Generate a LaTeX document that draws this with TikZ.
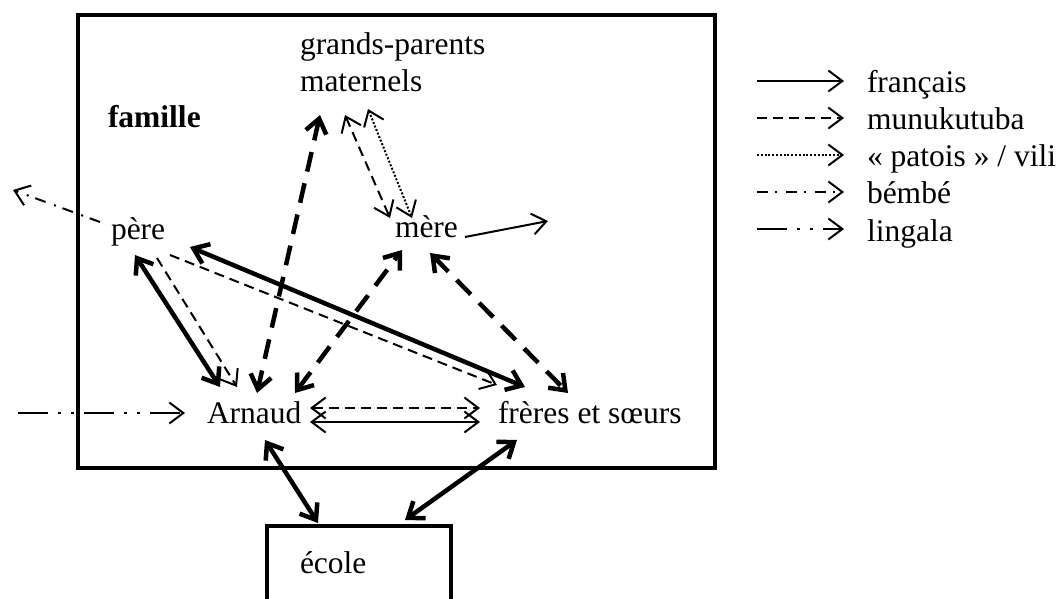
\documentclass[tikz,border=0pt]{standalone}
\usepackage{fontspec}
\setmainfont{Liberation Serif}
\usetikzlibrary{arrows.meta,calc}

\tikzset{
	lbl/.style={inner sep=0pt, outer sep=0pt, anchor=base west, font=\fontsize{31.5}{37}\selectfont},
	frame/.style={line width=4pt},
	fr/.style={line width=2pt},
	frthick/.style={line width=4.5pt},
	mk/.style={line width=2pt, dash pattern=on 10pt off 6pt},
	mkthick/.style={line width=4.5pt, dash pattern=on 20pt off 12pt},
	pv/.style={line width=2pt, dash pattern=on 2pt off 1.8pt},
	bb/.style={line width=2pt, dash pattern=on 11pt off 7pt on 2pt off 9pt},
	lg/.style={line width=2pt, dash pattern=on 30pt off 10pt on 3pt off 10pt on 3pt off 10pt},
	>={Straight Barb[length=14pt,width=21pt]}
}

\begin{document}
\begin{tikzpicture}[x=1pt,y=-1pt]
	%%%%% START %%%%%
	\useasboundingbox (0,0) rectangle (1061,599);
	
	\draw[frame] (78,15) rectangle (715,468);
	\node[draw, frame, minimum width=184pt, minimum height=100pt, anchor=north west, inner sep=0pt, outer sep=0pt] (ecolebox) at (267,526) {};
	
	\node[lbl, font=\fontsize{31.5}{37}\selectfont\bfseries] (famille) at (108,128) {famille};
	\node[lbl, align=left] (gp) at (300,92) {grands-parents\\maternels};
	\node[lbl] (pere) at (111,239) {père};
	\node[lbl] (mere) at (395,237) {mère};
	\node[lbl] (arnaud) at (207,423) {Arnaud};
	\node[lbl] (freres) at (498,423) {frères et sœurs};
	\node[lbl] (ecole) at (300,573) {école};
	
	\coordinate (mere out) at (548,221);
	\coordinate (pere out) at (13,190);
	\coordinate (arnaud in) at (18,413);
	
	% pere
	\draw[frthick, <->] ($(pere.base west)+(24,16)$) -- ($(arnaud.base west)+(13,-36)$);
	\draw[mk, ->] ($(pere.base west)+(46,19)$) -- ($(arnaud.base west)+(30,-36)$);
	\draw[mk, ->] ($(pere.base west)+(59,16)$) -- ($(freres.base west)+(-1,-38)$);
	\draw[frthick, <->] ($(pere.base west)+(79,8)$) -- ($(freres.base west)+(27,-36)$);
	\draw[bb, ->] ($(pere.base west)+(-11,-17)$) -- (pere out);
	
	% grands-parents
	\draw[mkthick, <->] ($(gp.base west)+(20,23)$) -- ($(arnaud.base west)+(50,-30)$);
	\draw[mk, <->] ($(gp.base west)+(45,23)$) -- ($(mere.base west)+(-5,-19)$);
	\draw[pv, <->] ($(gp.base west)+(68,17)$) -- ($(mere.base west)+(17,-19)$);
	
	% mere
	\draw[mkthick, <->] ($(arnaud.base west)+(88,-30)$) -- ($(mere.base west)+(7,13)$);
	\draw[mkthick, <->] ($(mere.base west)+(35,16)$) -- ($(freres.base west)+(70,-30)$);
	\draw[fr, ->] ($(mere.base west)+(70,0)$) -- (mere out);
	
	% Arnaud, freres et soeurs
	\draw[lg, ->] (arnaud in) -- ($(arnaud.base west)+(-22,-10)$);
	\draw[mk, <->] ($(arnaud.base west)+(103,-15)$) -- ($(freres.base west)+(-18,-15)$);
	\draw[fr, <->] ($(arnaud.base west)+(103,-1)$) -- ($(freres.base west)+(-18,-1)$);
	
	% ecole
	\draw[frthick, <->] ($(arnaud.base west)+(58,17)$) -- ($(ecolebox.north west)+(51,-3)$);
	\draw[frthick, <->] ($(freres.base west)+(19,17)$) -- ($(ecolebox.north west)+(138,-6)$);
	
	% legende
	\node[lbl] (lfr) at (867,93) {français};
	\node[lbl] (lmk) at (867,130) {munukutuba};
	\node[lbl] (lpv) at (867,167) {« patois » / vili};
	\node[lbl] (lbb) at (867,204) {bémbé};
	\node[lbl] (llg) at (867,241) {lingala};
	
	\draw[fr, ->] ($(lfr.base west)+(-110,-12)$) -- ($(lfr.base west)+(-23,-12)$);
	\draw[mk, ->] ($(lmk.base west)+(-110,-12)$) -- ($(lmk.base west)+(-23,-12)$);
	\draw[pv, ->] ($(lpv.base west)+(-110,-12)$) -- ($(lpv.base west)+(-23,-12)$);
	\draw[bb, ->] ($(lbb.base west)+(-110,-12)$) -- ($(lbb.base west)+(-23,-12)$);
	\draw[lg, ->] ($(llg.base west)+(-110,-12)$) -- ($(llg.base west)+(-23,-12)$);
	
	%%%%% END %%%%%
\end{tikzpicture}
\end{document}
